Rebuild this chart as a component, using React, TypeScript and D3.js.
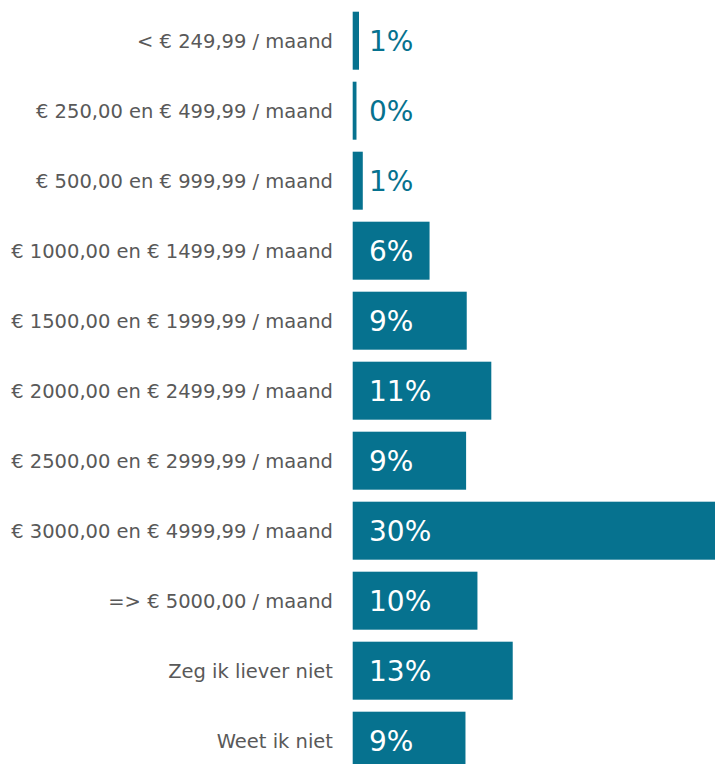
import React, { useEffect, useRef } from "react";
import * as d3 from "d3";

const CATEGORIES = [
  "< € 249,99 / maand",
  "€ 250,00 en € 499,99 / maand",
  "€ 500,00 en € 999,99 / maand",
  "€ 1000,00 en € 1499,99 / maand",
  "€ 1500,00 en € 1999,99 / maand",
  "€ 2000,00 en € 2499,99 / maand",
  "€ 2500,00 en € 2999,99 / maand",
  "€ 3000,00 en € 4999,99 / maand",
  "=> € 5000,00 / maand",
  "Zeg ik liever niet",
  "Weet ik niet",
];

const VALUES = [0.5, 0.3, 0.8, 6.1, 9.05, 11.0, 9.0, 30, 9.9, 12.7, 8.95];

export default function App() {
  const svgRef = useRef<SVGSVGElement>(null);

  useEffect(() => {
    document.body.style.margin = "0";
    const width = 715;
    const height = 764;
    const barColor = "#06728f";
    const labelColor = "#595959";
    const font = "'DejaVu Sans', sans-serif";

    const svg = d3.select(svgRef.current)
      .attr("width", width)
      .attr("height", height)
      .style("display", "block");
    svg.selectAll("*").remove();

    // 70px per row, 58px bars
    const y = d3.scaleBand<string>()
      .domain(CATEGORIES)
      .range([5.7, 775.7])
      .paddingInner(12 / 70)
      .paddingOuter(6 / 70);

    const x = d3.scaleLinear()
      .domain([0, 30])
      .range([352.7, 352.7 + 378]);

    const rows = svg.selectAll("g.row")
      .data(CATEGORIES.map((c, i) => ({ c, v: VALUES[i] })))
      .join("g")
      .attr("class", "row");

    rows.append("rect")
      .attr("x", x(0))
      .attr("y", d => y(d.c)!)
      .attr("width", d => x(d.v) - x(0))
      .attr("height", y.bandwidth())
      .attr("fill", barColor);

    rows.append("text")
      .attr("x", 333)
      .attr("y", d => y(d.c)! + y.bandwidth() / 2)
      .attr("dy", "0.36em")
      .attr("text-anchor", "end")
      .attr("fill", labelColor)
      .style("font-family", font)
      .style("font-size", "19.5px")
      .text(d => d.c);

    rows.append("text")
      .attr("x", 369)
      .attr("y", d => y(d.c)! + y.bandwidth() / 2)
      .attr("dy", "0.38em")
      .attr("fill", d => (x(d.v) - x(0) > 50 ? "#ffffff" : barColor))
      .style("font-family", font)
      .style("font-size", "28px")
      .text(d => Math.round(d.v) + "%");
  }, []);

  return <svg ref={svgRef} />;
}
